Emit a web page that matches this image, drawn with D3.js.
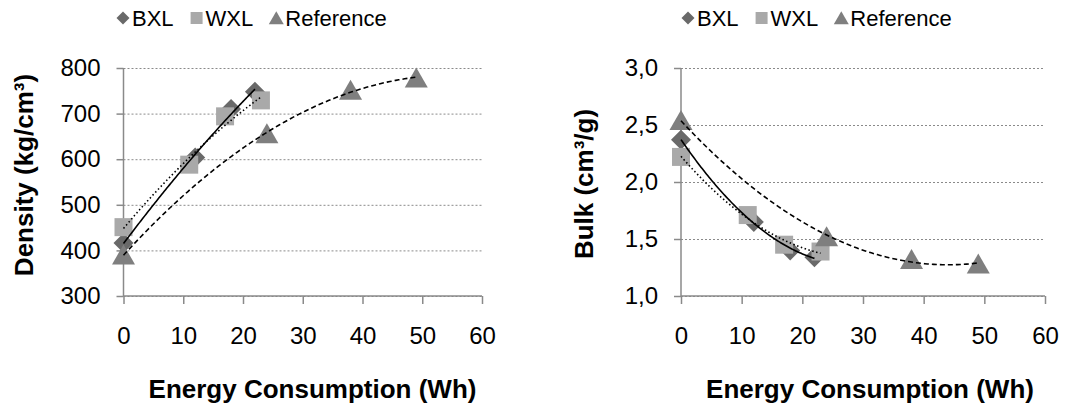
<!DOCTYPE html>
<html lang="en">
  <head>
    <style>
      html, body { margin: 0; padding: 0; background: #fff; }
      svg { display: block; font-family: "Liberation Sans", Arial, sans-serif; }
    </style>
    <script src="https://d3js.org/d3.v7.min.js"></script>
  </head>
  <body>
    <svg width="1083" height="404"></svg>

    <script>
      // energy consumption (Wh) per sample
      var bxlX = [0, 12, 18, 22],
        wxlX = [0, 11, 17, 23],
        refX = [0, 24, 38, 49];

      // density (kg/cm3)
      var bxlDensity = [416, 604, 710, 748],
        wxlDensity = [451, 588, 694, 729],
        refDensity = [390, 656, 751, 778];

      // bulk (cm3/g)
      var bxlBulk = [2.37, 1.65, 1.40, 1.34],
        wxlBulk = [2.22, 1.71, 1.45, 1.39],
        refBulk = [2.54, 1.52, 1.32, 1.28];

      var seriesNames = ['BXL', 'WXL', 'Reference'],
        xTicks = [0, 10, 20, 30, 40, 50, 60],
        densityTicks = [300, 400, 500, 600, 700, 800],
        bulkTicks = [1.0, 1.5, 2.0, 2.5, 3.0];

      var svg = d3.select('svg');
      var comma = d3.formatLocale({ decimal: ',', thousands: '.', grouping: [3], currency: ['', ''] });

      var markerFill = { BXL: '#696969', WXL: '#a9a9a9', Reference: '#7f7f7f' };
      var trendDash = { BXL: null, WXL: '1.5,2.5', Reference: '5,3' };

      function markerPath(name, s) {
        var p = d3.path();
        if (name === 'BXL') {
          p.moveTo(0, -s); p.lineTo(s, 0); p.lineTo(0, s); p.lineTo(-s, 0);
        } else if (name === 'WXL') {
          p.rect(-s, -s, 2 * s, 2 * s);
        } else {
          p.moveTo(0, -s * 1.05); p.lineTo(s * 1.15, s * 0.95); p.lineTo(-s * 1.15, s * 0.95);
        }
        p.closePath();
        return p.toString();
      }

      // least squares quadratic, like the excel polynomial trendline
      function quadFit(xs, ys) {
        var n = xs.length, s = [0, 0, 0, 0, 0], t = [0, 0, 0];
        for (var i = 0; i < n; i++) {
          for (var k = 0; k < 5; k++) s[k] += Math.pow(xs[i], k);
          for (var k2 = 0; k2 < 3; k2++) t[k2] += ys[i] * Math.pow(xs[i], k2);
        }
        var m = [[s[0], s[1], s[2], t[0]], [s[1], s[2], s[3], t[1]], [s[2], s[3], s[4], t[2]]];
        for (var c = 0; c < 3; c++) {
          for (var r = c + 1; r < 3; r++) {
            var f = m[r][c] / m[c][c];
            for (var j = c; j < 4; j++) m[r][j] -= f * m[c][j];
          }
        }
        var b = [0, 0, 0];
        for (var r2 = 2; r2 >= 0; r2--) {
          var v = m[r2][3];
          for (var j2 = r2 + 1; j2 < 3; j2++) v -= m[r2][j2] * b[j2];
          b[r2] = v / m[r2][r2];
        }
        return function(x) { return b[0] + b[1] * x + b[2] * x * x; };
      }

      function drawPanel(opt) {
        var x = d3.scaleLinear().domain([0, 60]).range([opt.left, opt.right]),
          y = d3.scaleLinear().domain(opt.domain).range([296, 68]);
        var g = svg.append('g');

        // gridlines
        g.append('g')
          .attr('transform', 'translate(' + opt.left + ',0)')
          .call(d3.axisLeft(y).tickValues(opt.ticks).tickSize(-(opt.right - opt.left)).tickFormat(''))
          .call(function(a) {
            a.select('.domain').remove();
            a.selectAll('line').attr('stroke', '#8a8a8a').attr('stroke-dasharray', '2,2');
          });

        // y axis
        g.append('g')
          .attr('transform', 'translate(' + opt.left + ',0)')
          .call(d3.axisLeft(y).tickValues(opt.ticks).tickSize(7).tickPadding(16).tickFormat(opt.format))
          .call(function(a) {
            a.select('.domain').attr('stroke', '#8a8a8a').attr('stroke-width', 1.5).attr('d', 'M0,68V296');
            a.selectAll('line').attr('stroke', '#8a8a8a').attr('stroke-width', 1.5);
            a.selectAll('text').attr('font-size', 24).attr('fill', '#000')
              .attr('font-family', '"Liberation Sans", Arial, sans-serif');
          });

        // x axis
        g.append('g')
          .attr('transform', 'translate(0,296)')
          .call(d3.axisBottom(x).tickValues(xTicks).tickSize(8).tickPadding(23))
          .call(function(a) {
            a.select('.domain').attr('stroke', '#8a8a8a').attr('stroke-width', 1.5)
              .attr('d', 'M' + opt.left + ',0H' + opt.right);
            a.selectAll('line').attr('stroke', '#8a8a8a').attr('stroke-width', 1.5);
            a.selectAll('text').attr('font-size', 24).attr('fill', '#000')
              .attr('font-family', '"Liberation Sans", Arial, sans-serif');
          });

        // markers
        opt.series.forEach(function(s) {
          g.append('g').selectAll('path')
            .data(s.xs.map(function(v, i) { return [v, s.ys[i]]; }))
            .join('path')
            .attr('d', markerPath(s.name, s.name === 'WXL' ? 9 : 10))
            .attr('transform', function(d) { return 'translate(' + x(d[0]) + ',' + y(d[1]) + ')'; })
            .attr('fill', markerFill[s.name]);
        });

        // trendlines
        opt.series.forEach(function(s) {
          var fit = quadFit(s.xs, s.ys),
            pts = d3.range(0, 101).map(function(i) { return d3.max(s.xs) * i / 100; });
          g.append('path')
            .datum(pts)
            .attr('fill', 'none')
            .attr('stroke', '#000')
            .attr('stroke-width', 1.6)
            .attr('stroke-dasharray', trendDash[s.name])
            .attr('d', d3.line().x(function(v) { return x(v); }).y(function(v) { return y(fit(v)); }));
        });

        // axis titles
        g.append('text')
          .attr('x', opt.left + 189).attr('y', 398)
          .attr('text-anchor', 'middle').attr('font-weight', 'bold').attr('font-size', 26)
          .text('Energy Consumption (Wh)');
        g.append('text')
          .attr('transform', 'translate(' + opt.titleX + ',' + opt.titleY + ') rotate(-90)')
          .attr('text-anchor', 'middle').attr('font-weight', 'bold').attr('font-size', 26)
          .text(opt.title);

        // legend
        var lx = opt.legendX;
        seriesNames.forEach(function(name) {
          var item = g.append('g');
          item.append('path')
            .attr('d', markerPath(name, name === 'WXL' ? 6 : 6.5))
            .attr('transform', 'translate(' + (lx + 6) + ',18)')
            .attr('fill', markerFill[name]);
          var t = item.append('text')
            .attr('x', lx + 15).attr('y', 26)
            .attr('font-size', 22)
            .text(name);
          lx += 15 + t.node().getComputedTextLength() + 17;
        });
      }

      drawPanel({
        left: 123.5, right: 482, domain: [300, 800], ticks: densityTicks,
        format: d3.format('d'), title: 'Density (kg/cm³)', titleX: 33, titleY: 175, legendX: 117,
        series: [
          { name: 'BXL', xs: bxlX, ys: bxlDensity },
          { name: 'WXL', xs: wxlX, ys: wxlDensity },
          { name: 'Reference', xs: refX, ys: refDensity }
        ]
      });

      drawPanel({
        left: 681, right: 1045, domain: [1, 3], ticks: bulkTicks,
        format: comma.format('.1f'), title: 'Bulk (cm³/g)', titleX: 593, titleY: 184, legendX: 682,
        series: [
          { name: 'BXL', xs: bxlX, ys: bxlBulk },
          { name: 'WXL', xs: wxlX, ys: wxlBulk },
          { name: 'Reference', xs: refX, ys: refBulk }
        ]
      });
    </script>
  </body>
</html>
